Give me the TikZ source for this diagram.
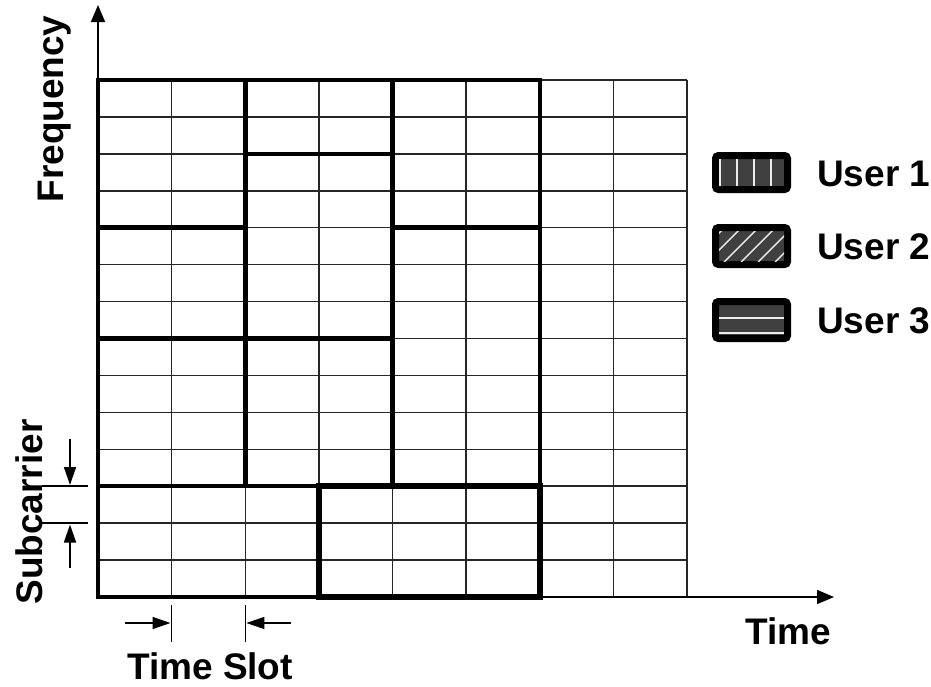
\documentclass[tikz,border=0pt]{standalone}
\usepackage{fontspec}
\setmainfont{Liberation Sans}
\usetikzlibrary{arrows.meta}
\definecolor{legfill}{HTML}{404040}
\tikzset{
  gridline/.style={line width=1.5pt, draw=black!85},
  bold border/.style={line width=4.5pt, line cap=rect},
  block border/.style={line width=5.5pt},
  axis/.style={line width=1.6pt, -{Triangle[length=17pt,width=14pt]}},
  dimline/.style={line width=1.5pt},
  dimarrow/.style={line width=1.5pt, -{Triangle[length=18pt,width=12pt]}},
  lbl/.style={font=\fontsize{37}{40}\selectfont\bfseries, inner sep=0pt},
  legbox/.style={line width=7pt, rounded corners=3pt, fill=legfill, draw=black},
  stripe/.style={draw=white!85!gray, line width=1.8pt}
}
\begin{document}
\begin{tikzpicture}[x=1pt,y=-1pt]
\useasboundingbox (0,0) rectangle (931,686);
% grid
\begin{scope}[shift={(98pt,-80pt)}, x=73.625pt, y=-36.93pt]
  \foreach \i in {0,...,8} \draw[gridline] (\i,0) -- (\i,14);
  \foreach \j in {0,...,14} \draw[gridline] (0,\j) -- (8,\j);
  % allocation borders
  \draw[bold border] (0,0) -- (6,0);
  \draw[bold border] (0,0) -- (0,14) -- (3,14);
  \draw[bold border] (2,0) -- (2,11);
  \draw[bold border] (4,0) -- (4,11);
  \draw[bold border] (6,0) -- (6,11);
  \draw[bold border] (2,2) -- (4,2);
  \draw[bold border] (0,4) -- (2,4);
  \draw[bold border] (4,4) -- (6,4);
  \draw[bold border] (0,7) -- (4,7);
  \draw[bold border] (0,11) -- (6,11);
  \draw[block border] (3,11) rectangle (6,14);
  \coordinate (origin) at (0,14);
  \coordinate (gtop) at (0,0);
\end{scope}
% axes
\coordinate (ytip) at (98,5);
\coordinate (xtip) at (834,597);
\draw[axis] (gtop) -- (ytip);
\draw[axis] (origin) -- (xtip);
% subcarrier dimension
\coordinate (sc1a) at (42,486.2); \coordinate (sc1b) at (88,486.2);
\coordinate (sc2a) at (42,523.1); \coordinate (sc2b) at (88,523.1);
\draw[dimline] (sc1a) -- (sc1b);
\draw[dimline] (sc2a) -- (sc2b);
\coordinate (sda) at (70,439); \coordinate (sdb) at (70,485);
\coordinate (sua) at (70,568); \coordinate (sub) at (70,524.5);
\draw[dimarrow] (sda) -- (sdb);
\draw[dimarrow] (sua) -- (sub);
% time slot dimension
\coordinate (ts1a) at (171.6,605); \coordinate (ts1b) at (171.6,642);
\coordinate (ts2a) at (245.25,605); \coordinate (ts2b) at (245.25,642);
\draw[dimline] (ts1a) -- (ts1b);
\draw[dimline] (ts2a) -- (ts2b);
\coordinate (tra) at (125,623); \coordinate (trb) at (170.5,623);
\coordinate (tla) at (291,623); \coordinate (tlb) at (246.4,623);
\draw[dimarrow] (tra) -- (trb);
\draw[dimarrow] (tla) -- (tlb);
% labels
\node[lbl, rotate=90, anchor=base] (freq) at (63,109) {Frequency};
\node[lbl, rotate=90, anchor=base] (subc) at (42,512) {Subcarrier};
\node[lbl, anchor=base] (tslot) at (210,679) {Time Slot};
\node[lbl, anchor=base] (time) at (788,644) {Time};
% legend
\node[lbl, anchor=base west] (u1) at (817,186) {User 1};
\node[lbl, anchor=base west] (u2) at (817,259) {User 2};
\node[lbl, anchor=base west] (u3) at (817,333) {User 3};
\draw[legbox] (715.5,155.5) rectangle (787.5,189.5);
\foreach \x in {720,737,754,771} \draw[stripe] (\x,159) -- (\x,186);
\draw[legbox] (715.5,227.5) rectangle (787.5,264.5);
\begin{scope}
  \clip (719,231) rectangle (784,261);
  \foreach \x in {690,707,...,800} \draw[stripe, line width=1.4pt] (\x,262) -- (\x+32,230);
\end{scope}
\draw[legbox] (715.5,301.5) rectangle (787.5,338.5);
\draw[stripe] (719,318) -- (784,318);
\draw[stripe] (719,333) -- (784,333);
\end{tikzpicture}
\end{document}
